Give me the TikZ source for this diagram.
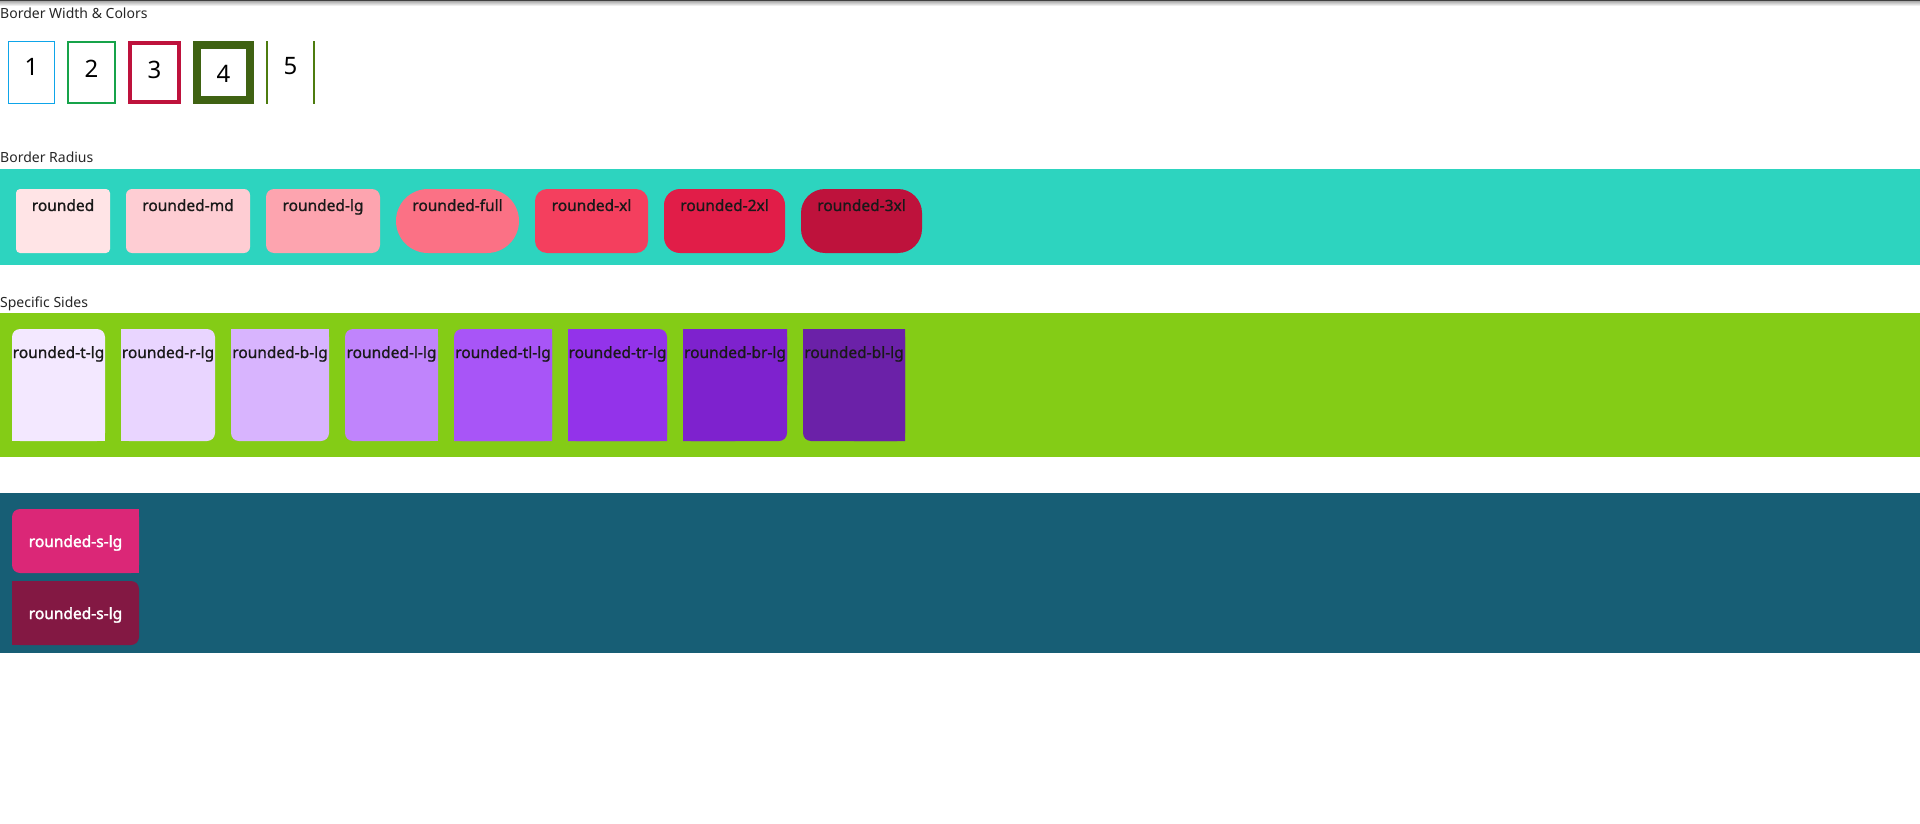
\documentclass[tikz,border=0pt]{standalone}
\usepackage{fontspec}
\setmainfont{Noto Sans}
\newfontfamily\medfont[FakeBold=1.1]{Noto Sans}
\newfontfamily\heavyfont[FakeBold=2.2]{Noto Sans}
\usetikzlibrary{positioning}
\definecolor{skyline}{HTML}{0EA5E9}
\definecolor{greenline}{HTML}{16A34A}
\definecolor{roseline}{HTML}{BE123C}
\definecolor{oliveline}{HTML}{3F6212}
\definecolor{limeline}{HTML}{4D7C0F}
\definecolor{tealband}{HTML}{2DD4BF}
\definecolor{limeband}{HTML}{84CC16}
\definecolor{cyanband}{HTML}{175E75}
\definecolor{roseA}{HTML}{FFE4E6}
\definecolor{roseB}{HTML}{FECDD3}
\definecolor{roseC}{HTML}{FDA4AF}
\definecolor{roseD}{HTML}{FB7185}
\definecolor{roseE}{HTML}{F43F5E}
\definecolor{roseF}{HTML}{E11D48}
\definecolor{roseG}{HTML}{BE123C}
\definecolor{purpA}{HTML}{F3E8FF}
\definecolor{purpB}{HTML}{E9D5FF}
\definecolor{purpC}{HTML}{D8B4FE}
\definecolor{purpD}{HTML}{C084FC}
\definecolor{purpE}{HTML}{A855F7}
\definecolor{purpF}{HTML}{9333EA}
\definecolor{purpG}{HTML}{7E22CE}
\definecolor{purpH}{HTML}{6B21A8}
\definecolor{pinkA}{HTML}{DB2777}
\definecolor{pinkB}{HTML}{831843}
\tikzset{
  heading/.style={anchor=base west, inner sep=0pt, text=black!85, font=\fontsize{14}{16}\selectfont},
  digit/.style={anchor=base, inner sep=0pt, font=\fontsize{24}{28}\selectfont},
  frame/.style={inner sep=0pt, outer sep=0pt, minimum height=#1},
  rbox/.style={inner sep=0pt, outer sep=0pt, minimum height=64pt},
  sbox/.style={inner sep=0pt, outer sep=0pt, minimum height=112pt, rounded corners=8pt},
  lbl/.style={anchor=base, inner sep=0pt, text=black!90, font=\fontsize{15.5}{18}\medfont},
  wlbl/.style={anchor=base, inner sep=0pt, text=white, font=\fontsize{15.5}{18}\heavyfont}
}
\begin{document}
\begin{tikzpicture}[x=1pt, y=-1pt, node distance=16pt]
\useasboundingbox (0,0) rectangle (1920,824);
\fill[black!75] (0,0) rectangle (1920,1.5);
\shade[top color=black!30, bottom color=white] (0,1.5) rectangle (1920,6);

\node[heading] (hwidth) at (0,19) {Border Width \& Colors};
\node[frame=62pt, draw=skyline, line width=1pt, minimum width=46pt] (b1) at (31.5,73) {};
\node[frame=61pt, draw=greenline, line width=2pt, minimum width=47pt] (b2) at (91.5,73) {};
\node[frame=59pt, draw=roseline, line width=4pt, minimum width=49pt] (b3) at (154.5,73) {};
\node[frame=55pt, draw=oliveline, line width=8pt, minimum width=53pt] (b4) at (223.5,73) {};
\node[frame=63pt, minimum width=47pt] (b5) at (290.5,73) {};
\draw[limeline, line width=2pt] (b5.north west) -- (b5.south west);
\draw[limeline, line width=2pt] (b5.north east) -- (b5.south east);
\node[digit] (n1) at (31.5,76) {1};
\node[digit] (n2) at (91.5,78) {2};
\node[digit] (n3) at (154.5,79) {3};
\node[digit] (n4) at (223.5,83) {4};
\node[digit] (n5) at (290.5,75) {5};

\node[heading] (hradius) at (0,163) {Border Radius};
\fill[tealband] (0,169) rectangle (1920,264.5);
\node[rbox, fill=roseA, rounded corners=4pt, minimum width=94pt, anchor=north west] (rd) at (16,189) {};
\node[rbox, fill=roseB, rounded corners=6pt, minimum width=124pt, right=of rd] (rmd) {};
\node[rbox, fill=roseC, rounded corners=8pt, minimum width=114pt, right=of rmd] (rlg) {};
\node[rbox, fill=roseD, rounded corners=32pt, minimum width=123pt, right=of rlg] (rfull) {};
\node[rbox, fill=roseE, rounded corners=12pt, minimum width=113pt, right=of rfull] (rxl) {};
\node[rbox, fill=roseF, rounded corners=16pt, minimum width=121pt, right=of rxl] (r2xl) {};
\node[rbox, fill=roseG, rounded corners=24pt, minimum width=121pt, right=of r2xl] (r3xl) {};
\node[lbl] (trd) at ([yshift=-22pt]rd.north) {rounded};
\node[lbl] (trmd) at ([yshift=-22pt]rmd.north) {rounded-md};
\node[lbl] (trlg) at ([yshift=-22pt]rlg.north) {rounded-lg};
\node[lbl] (trfull) at ([yshift=-22pt]rfull.north) {rounded-full};
\node[lbl] (trxl) at ([yshift=-22pt]rxl.north) {rounded-xl};
\node[lbl] (tr2xl) at ([yshift=-22pt]r2xl.north) {rounded-2xl};
\node[lbl] (tr3xl) at ([yshift=-22pt]r3xl.north) {rounded-3xl};

\node[heading] (hsides) at (0,307) {Specific Sides};
\fill[limeband] (0,313) rectangle (1920,457);
\node[sbox, fill=purpA, minimum width=93pt, anchor=north west] (st) at (12,329) {};
\node[sbox, fill=purpB, minimum width=94pt, right=of st] (sr) {};
\node[sbox, fill=purpC, minimum width=98pt, right=of sr] (sb) {};
\node[sbox, fill=purpD, minimum width=93pt, right=of sb] (sl) {};
\node[sbox, fill=purpE, minimum width=98pt, right=of sl] (stl) {};
\node[sbox, fill=purpF, minimum width=99pt, right=of stl] (str) {};
\node[sbox, fill=purpG, minimum width=104pt, right=of str] (sbr) {};
\node[sbox, fill=purpH, minimum width=102pt, right=of sbr] (sbl) {};
\fill[purpA] (st.west) rectangle (st.south east);
\fill[purpB] (sr.north west) rectangle (sr.south);
\fill[purpC] (sb.north west) rectangle (sb.east);
\fill[purpD] (sl.north) rectangle (sl.south east);
\fill[purpE] (stl.north) rectangle (stl.south east) (stl.west) rectangle (stl.south east);
\fill[purpF] (str.north west) rectangle (str.south) (str.west) rectangle (str.south east);
\fill[purpG] (sbr.north west) rectangle (sbr.south) (sbr.north west) rectangle (sbr.east);
\fill[purpH] (sbl.north) rectangle (sbl.south east) (sbl.north west) rectangle (sbl.east);
\node[lbl] (tst) at ([yshift=-29pt]st.north) {rounded-t-lg};
\node[lbl] (tsr) at ([yshift=-29pt]sr.north) {rounded-r-lg};
\node[lbl] (tsb) at ([yshift=-29pt]sb.north) {rounded-b-lg};
\node[lbl] (tsl) at ([yshift=-29pt]sl.north) {rounded-l-lg};
\node[lbl] (tstl) at ([yshift=-29pt]stl.north) {rounded-tl-lg};
\node[lbl] (tstr) at ([yshift=-29pt]str.north) {rounded-tr-lg};
\node[lbl] (tsbr) at ([yshift=-29pt]sbr.north) {rounded-br-lg};
\node[lbl] (tsbl) at ([yshift=-29pt]sbl.north) {rounded-bl-lg};

\fill[cyanband] (0,493) rectangle (1920,653);
\node[rbox, fill=pinkA, rounded corners=8pt, minimum width=127pt, anchor=north west] (s1) at (12,509) {};
\node[rbox, fill=pinkB, rounded corners=8pt, minimum width=127pt, below=8pt of s1] (s2) {};
\fill[pinkA] (s1.north) rectangle (s1.south east);
\fill[pinkB] (s2.north west) rectangle (s2.south);
\node[wlbl] (ts1) at ([yshift=-6pt]s1.center) {rounded-s-lg};
\node[wlbl] (ts2) at ([yshift=-6pt]s2.center) {rounded-s-lg};
\end{tikzpicture}
\end{document}
